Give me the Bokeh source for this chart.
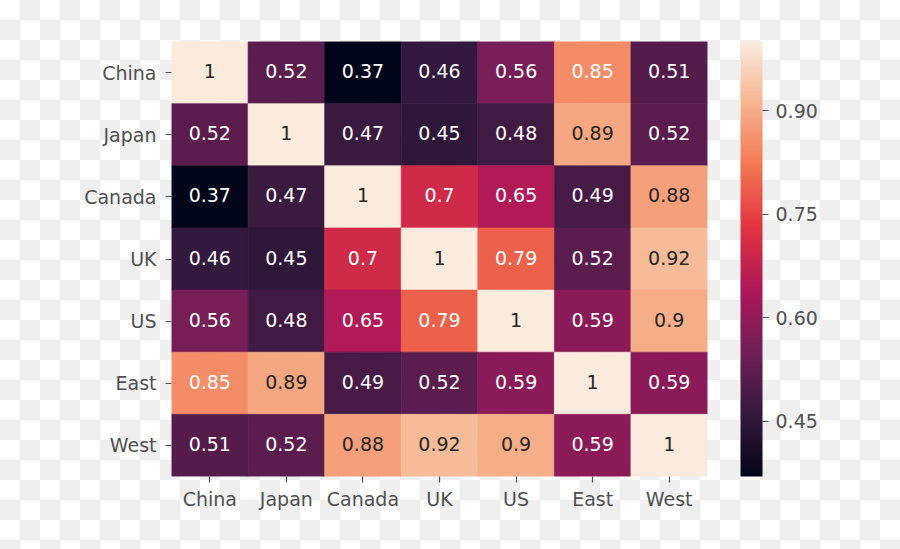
from bokeh.plotting import figure
from bokeh.models import (LinearColorMapper, ColorBar, FixedTicker, PrintfTickFormatter,
                          ColumnDataSource, GlobalInlineStyleSheet)
from bokeh.transform import transform
from bokeh.core.properties import value
from bokeh.embed import file_html
from bokeh.resources import INLINE

# ---- data ----
labels = ["China", "Japan", "Canada", "UK", "US", "East", "West"]
row_china = [1.00, 0.52, 0.37, 0.46, 0.56, 0.85, 0.51]
row_japan = [0.52, 1.00, 0.47, 0.45, 0.48, 0.89, 0.52]
row_canada = [0.37, 0.47, 1.00, 0.70, 0.65, 0.49, 0.88]
row_uk = [0.46, 0.45, 0.70, 1.00, 0.79, 0.52, 0.92]
row_us = [0.56, 0.48, 0.65, 0.79, 1.00, 0.59, 0.90]
row_east = [0.85, 0.89, 0.49, 0.52, 0.59, 1.00, 0.59]
row_west = [0.51, 0.52, 0.88, 0.92, 0.90, 0.59, 1.00]
corr = [row_china, row_japan, row_canada, row_uk, row_us, row_east, row_west]
cbar_ticks = [0.45, 0.60, 0.75, 0.90]

# ---- rocket-like palette (style) ----
anchors = [(0.0, "#03051A"), (1 / 7, "#35193E"), (2 / 7, "#701F57"), (3 / 7, "#AD1759"),
           (4 / 7, "#E13342"), (5 / 7, "#F37651"), (6 / 7, "#F6B48F"), (1.0, "#FAEBDD")]


def hex2rgb(h):
    return tuple(int(h[i:i + 2], 16) for i in (1, 3, 5))


def interp(t):
    for (t0, c0), (t1, c1) in zip(anchors[:-1], anchors[1:]):
        if t0 <= t <= t1:
            f = (t - t0) / (t1 - t0)
            a, b = hex2rgb(c0), hex2rgb(c1)
            return tuple(round(a[k] + (b[k] - a[k]) * f) for k in range(3))
    return hex2rgb(anchors[-1][1])


palette = ["#%02x%02x%02x" % interp(i / 255) for i in range(256)]

vals = [v for r in corr for v in r]
vmin, vmax = min(vals), max(vals)
mapper = LinearColorMapper(palette=palette, low=vmin, high=vmax)


def lum(rgb):
    def lin(c):
        c = c / 255
        return c / 12.92 if c <= 0.03928 else ((c + 0.055) / 1.055) ** 2.4
    r, g, b = (lin(c) for c in rgb)
    return 0.2126 * r + 0.7152 * g + 0.0722 * b


xs, ys, vs, txt, tcol = [], [], [], [], []
for i, rlab in enumerate(labels):
    for j, clab in enumerate(labels):
        v = corr[i][j]
        xs.append(clab)
        ys.append(rlab)
        vs.append(v)
        txt.append(f"{v:.2g}")
        rgb = interp((v - vmin) / (vmax - vmin))
        tcol.append("#262626" if lum(rgb) > 0.408 else "#ffffff")

src = ColumnDataSource(dict(x=xs, y=ys, v=vs, t=txt, tc=tcol))

FONT = "DejaVu Sans"
LABEL_COLOR = "#505050"

p = figure(width=884, height=533, x_range=labels, y_range=labels[::-1],
           output_backend="svg", toolbar_location=None,
           min_border_left=171, min_border_top=41, min_border_bottom=57, min_border_right=177)
p.background_fill_alpha = 0
p.border_fill_alpha = 0
p.outline_line_color = None
p.grid.visible = False

p.rect(x="x", y="y", width=1, height=1, source=src,
       fill_color=transform("v", mapper), line_color=transform("v", mapper), line_width=0.6)
p.text(x="x", y="y", text="t", source=src, text_color="tc",
       text_align="center", text_baseline="middle", y_offset=-1.5,
       text_font=value(FONT), text_font_size="19px")

for ax in (p.xaxis[0], p.yaxis[0]):
    ax.axis_line_color = None
    ax.major_tick_in = 0
    ax.major_tick_out = 6
    ax.major_tick_line_color = LABEL_COLOR
    ax.major_tick_line_width = 1.2
    ax.minor_tick_line_color = None
    ax.major_label_text_font = FONT
    ax.major_label_text_font_size = "19px"
    ax.major_label_text_color = LABEL_COLOR
p.xaxis.major_label_standoff = 5
p.yaxis.major_label_standoff = 9

cb = ColorBar(color_mapper=mapper, ticker=FixedTicker(ticks=cbar_ticks),
              formatter=PrintfTickFormatter(format="%.2f"),
              width=22, margin=0, padding=0, location=(33, 0),
              major_tick_in=0, major_tick_out=6, major_tick_line_color=LABEL_COLOR,
              major_tick_line_width=1.2,
              minor_tick_line_color=None, bar_line_color=None,
              label_standoff=7,
              major_label_text_font=FONT, major_label_text_font_size="19px",
              major_label_text_color=LABEL_COLOR,
              background_fill_alpha=0, border_line_color=None)
p.add_layout(cb, "right")

p.stylesheets = [GlobalInlineStyleSheet(css=(
    "html, body { margin: 0; background: repeating-conic-gradient(#efefef 0 25%, #ffffff 0 50%) 0 0 / 40px 40px; }"
))]

open("out.html", "w").write(file_html(p, INLINE))
